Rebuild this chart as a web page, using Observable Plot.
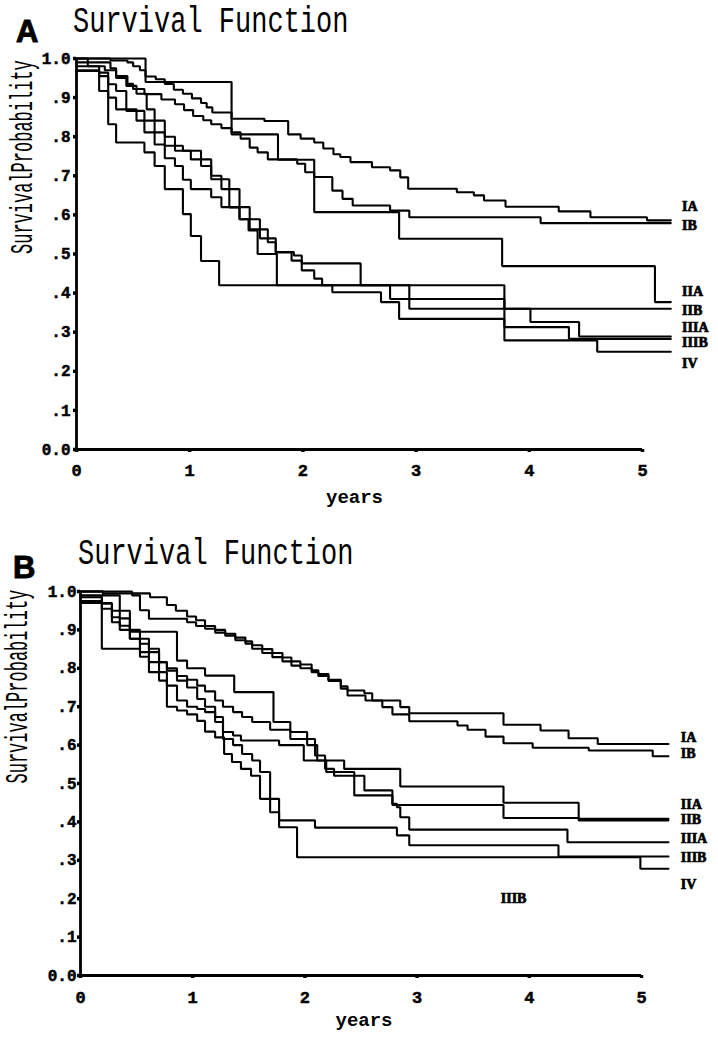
<!DOCTYPE html>
<html>
<head>
<meta charset="utf-8">
<script src="https://cdn.jsdelivr.net/npm/d3@7"></script>
<script src="https://cdn.jsdelivr.net/npm/@observablehq/plot@0.6"></script>
<style>
  body { margin: 0; background: #fff; }
  #wrap { position: relative; width: 718px; height: 1038px; overflow: hidden; background: #fff; }
  .letter { position: absolute; font-family: "Liberation Sans", Arial, sans-serif; font-weight: bold;
            font-size: 31px; line-height: 31px; -webkit-text-stroke: 1px #000; color: #000; }
  .title { position: absolute; font-family: "Liberation Mono", monospace; font-size: 27px; line-height: 27px;
           transform: scaleY(1.4); transform-origin: 0 20.7px; white-space: pre; color: #000; }
  .panel { position: absolute; left: 0; }
  g[aria-label$="tick label"] text { stroke: #000; stroke-width: 0.5px; }
</style>
</head>
<body>
<div id="wrap">
  <div class="letter" style="left:16px;top:16px">A</div>
  <div class="title" style="left:73px;top:12px">Survival Function</div>
  <div class="panel" id="pA" style="top:50px"></div>
  <div class="letter" style="left:13px;top:552px">B</div>
  <div class="title" style="left:78px;top:544px">Survival Function</div>
  <div class="panel" id="pB" style="top:583px"></div>
</div>
<script>
// ---------- shared categories / ticks ----------
const STAGES = ["IA", "IB", "IIA", "IIB", "IIIA", "IIIB", "IV"];
const X_TICKS = [0, 1, 2, 3, 4, 5];
const X_TICK_LABELS = ["0", "1", "2", "3", "4", "5"];
const Y_TICKS = [0, 0.1, 0.2, 0.3, 0.4, 0.5, 0.6, 0.7, 0.8, 0.9, 1.0];
const Y_TICK_LABELS = ["0.0", ".1", ".2", ".3", ".4", ".5", ".6", ".7", ".8", ".9", "1.0"];
const X_LABEL = "years";
const Y_LABEL = "SurvivalProbability";

// ---------- Panel A: [years, survival] step points ----------
const A_IA = [[0,1.0],[0.30,0.995],[0.45,0.99],[0.50,0.98],[0.56,0.97],[0.61,0.954],[0.70,0.947],[0.78,0.935],[0.86,0.92],[0.94,0.91],[1.02,0.898],[1.10,0.886],[1.15,0.875],[1.20,0.862],[1.37,0.846],[1.66,0.84],[1.87,0.806],[1.98,0.795],[2.10,0.785],[2.18,0.77],[2.27,0.755],[2.33,0.748],[2.42,0.735],[2.61,0.722],[2.77,0.714],[2.86,0.696],[2.93,0.667],[3.36,0.658],[3.51,0.65],[3.60,0.637],[3.79,0.621],[4.26,0.609],[4.54,0.594],[5.04,0.586]];
const A_IB = [[0,1.0],[0.10,0.99],[0.30,0.975],[0.35,0.955],[0.45,0.935],[0.50,0.922],[0.60,0.909],[0.75,0.895],[0.87,0.883],[0.95,0.868],[1.03,0.853],[1.12,0.842],[1.19,0.832],[1.28,0.822],[1.37,0.811],[1.45,0.795],[1.53,0.772],[1.60,0.76],[1.69,0.742],[1.95,0.731],[2.02,0.709],[2.10,0.697],[2.26,0.662],[2.35,0.641],[2.44,0.624],[2.77,0.611],[2.94,0.594],[4.10,0.579]];
const A_IIA = [[0,1.0],[0.61,0.94],[1.37,0.806],[1.78,0.741],[2.10,0.607],[2.85,0.539],[3.76,0.469],[5.11,0.377]];
const A_IIB = [[0,0.99],[0.10,0.98],[0.25,0.97],[0.35,0.95],[0.44,0.93],[0.53,0.91],[0.62,0.87],[0.69,0.841],[0.78,0.80],[0.87,0.777],[0.94,0.764],[1.10,0.742],[1.19,0.70],[1.28,0.691],[1.35,0.666],[1.44,0.62],[1.53,0.589],[1.62,0.563],[1.69,0.53],[1.76,0.505],[1.92,0.496],[1.99,0.476],[2.51,0.42],[2.94,0.36]];
const A_IIIA = [[0,0.98],[0.20,0.964],[0.28,0.934],[0.35,0.917],[0.44,0.866],[0.60,0.841],[0.69,0.811],[0.78,0.777],[0.87,0.764],[1.01,0.742],[1.10,0.725],[1.19,0.691],[1.28,0.666],[1.35,0.619],[1.44,0.589],[1.52,0.56],[1.60,0.50],[1.77,0.42],[2.77,0.385],[3.78,0.36],[4.01,0.326],[4.44,0.289]];
const A_IIIB = [[0,0.97],[0.20,0.955],[0.28,0.90],[0.35,0.87],[0.53,0.841],[0.60,0.811],[0.69,0.78],[0.78,0.745],[0.87,0.725],[0.94,0.69],[1.01,0.666],[1.19,0.645],[1.28,0.62],[1.44,0.589],[1.53,0.563],[1.62,0.54],[1.76,0.504],[1.90,0.483],[1.99,0.458],[2.10,0.437],[2.17,0.42],[2.26,0.402],[2.69,0.377],[2.85,0.334],[3.78,0.313],[4.35,0.283]];
const A_IV = [[0,0.968],[0.20,0.917],[0.28,0.832],[0.35,0.785],[0.60,0.76],[0.69,0.725],[0.78,0.666],[0.94,0.602],[1.01,0.546],[1.10,0.482],[1.26,0.42],[3.78,0.279],[4.60,0.25]];
const A_END = 5.25;
const A_LABEL_T = 5.35;
const A_LABEL_LEVELS = [0.621, 0.574, 0.405, 0.355, 0.313, 0.273, 0.220];

// ---------- Panel B ----------
const B_IA = [[0,1.0],[0.46,0.995],[0.62,0.985],[0.77,0.965],[0.85,0.95],[0.95,0.935],[1.03,0.925],[1.11,0.91],[1.20,0.90],[1.29,0.89],[1.38,0.88],[1.47,0.87],[1.53,0.86],[1.62,0.85],[1.71,0.84],[1.80,0.828],[1.88,0.818],[1.96,0.81],[2.06,0.795],[2.12,0.785],[2.21,0.77],[2.32,0.753],[2.38,0.742],[2.53,0.735],[2.60,0.716],[2.85,0.699],[2.93,0.683],[3.77,0.653],[4.10,0.638],[4.35,0.618],[4.61,0.603]];
const B_IB = [[0,1.0],[0.20,0.995],[0.46,0.99],[0.53,0.951],[0.61,0.929],[0.95,0.92],[1.03,0.91],[1.11,0.903],[1.20,0.893],[1.29,0.885],[1.38,0.873],[1.47,0.864],[1.53,0.851],[1.62,0.84],[1.71,0.829],[1.80,0.818],[1.88,0.807],[1.96,0.80],[2.06,0.79],[2.12,0.78],[2.21,0.767],[2.32,0.747],[2.38,0.729],[2.54,0.716],[2.69,0.699],[2.78,0.68],[2.93,0.662],[3.36,0.651],[3.45,0.64],[3.61,0.622],[3.77,0.605],[4.03,0.593],[4.53,0.586],[5.10,0.571]];
const B_IIA = [[0,1.0],[0.20,0.99],[0.35,0.95],[0.44,0.895],[0.86,0.82],[0.95,0.80],[1.11,0.781],[1.37,0.738],[1.72,0.66],[1.87,0.616],[2.09,0.573],[2.18,0.56],[2.35,0.538],[2.85,0.492],[3.77,0.45],[4.44,0.408]];
const B_IIB = [[0,0.99],[0.19,0.97],[0.28,0.933],[0.35,0.911],[0.44,0.877],[0.53,0.864],[0.61,0.842],[0.70,0.816],[0.77,0.80],[0.86,0.78],[0.95,0.77],[1.04,0.755],[1.11,0.74],[1.20,0.716],[1.27,0.70],[1.36,0.686],[1.44,0.673],[1.53,0.66],[1.69,0.64],[1.87,0.634],[2.02,0.60],[2.11,0.56],[2.19,0.53],[2.44,0.469],[2.78,0.444],[3.77,0.41],[4.44,0.404]];
const B_IIIA = [[0,0.985],[0.19,0.968],[0.28,0.95],[0.35,0.93],[0.44,0.90],[0.53,0.877],[0.61,0.851],[0.70,0.816],[0.77,0.794],[0.86,0.768],[0.95,0.75],[1.04,0.72],[1.11,0.70],[1.20,0.673],[1.27,0.634],[1.36,0.625],[1.43,0.612],[1.77,0.60],[1.99,0.56],[2.18,0.538],[2.26,0.52],[2.53,0.482],[2.78,0.447],[2.82,0.438],[2.85,0.412],[2.93,0.38],[4.34,0.347]];
const B_IIIB = [[0,0.975],[0.19,0.955],[0.28,0.92],[0.35,0.90],[0.44,0.877],[0.53,0.842],[0.61,0.816],[0.70,0.79],[0.77,0.755],[0.86,0.716],[0.95,0.70],[1.04,0.694],[1.11,0.686],[1.20,0.66],[1.27,0.616],[1.36,0.60],[1.44,0.577],[1.53,0.56],[1.60,0.53],[1.69,0.46],[1.77,0.404],[2.09,0.385],[2.82,0.365],[2.93,0.339],[4.26,0.31]];
const B_IV = [[0,0.97],[0.19,0.851],[0.53,0.83],[0.61,0.79],[0.70,0.768],[0.77,0.70],[0.86,0.69],[0.95,0.68],[1.04,0.663],[1.11,0.635],[1.20,0.62],[1.28,0.577],[1.35,0.556],[1.43,0.538],[1.52,0.52],[1.60,0.46],[1.69,0.425],[1.77,0.386],[1.93,0.308],[4.99,0.278]];
const B_END = 5.24;
const B_LABEL_T = 5.35;
const B_LABEL_LEVELS = [0.62, 0.578, 0.446, 0.407, 0.357, 0.307, 0.237];
const B_STRAY = [{t: 3.86, s: 0.20, text: "IIIB"}];

function drawPanel(cfg) {
  const rows = [];
  STAGES.forEach((name, i) => {
    const pts = cfg.series[i];
    pts.forEach(([t, s]) => rows.push({name, t, s}));
    rows.push({name, t: cfg.tEnd, s: pts[pts.length - 1][1]});
  });
  const labels = STAGES.map((name, i) => ({name, t: cfg.labelT, s: cfg.labelLevels[i]}));
  const marks = [
    Plot.line(rows, {x: "t", y: "s", z: "name", curve: "step-after", stroke: "black",
      strokeWidth: 2.1, strokeLinejoin: "miter"}),
    Plot.ruleX([0], {y1: 0, y2: 1, stroke: "black", strokeWidth: 2.8}),
    Plot.ruleY([0], {x1: 0, x2: 5, stroke: "black", strokeWidth: 2.8}),
    Plot.axisY({ticks: Y_TICKS, tickFormat: d => Y_TICK_LABELS[Y_TICKS.indexOf(d)], tickSize: 3,
      tickPadding: cfg.ytp, strokeWidth: 3.5, fontSize: 16, fontWeight: "bold", label: null}),
    Plot.axisX({ticks: X_TICKS, tickFormat: d => X_TICK_LABELS[X_TICKS.indexOf(d)], tickSize: 3,
      tickPadding: cfg.xtp, strokeWidth: 3.5, fontSize: 17, fontWeight: "bold", label: null}),
    Plot.text(labels, {x: "t", y: "s", text: "name", textAnchor: "start",
      fontFamily: "'Liberation Serif', serif", fontWeight: "bold", fontSize: 14,
      fill: "black", stroke: "black", strokeWidth: 0.7}),
    Plot.text([Y_LABEL], {text: d => d, frameAnchor: "left", rotate: -90, dx: cfg.ylDx, fontSize: 17, fill: "black"}),
    Plot.text([X_LABEL], {text: d => d, frameAnchor: "bottom", dx: cfg.xlDx, dy: cfg.xlDy,
      fontSize: 19, fontWeight: "bold", fill: "black"})
  ];
  if (cfg.extra) {
    marks.push(Plot.text(cfg.extra, {x: "t", y: "s", text: "text",
      fontFamily: "'Liberation Serif', serif", fontWeight: "bold", fontSize: 14,
      fill: "black", stroke: "black", strokeWidth: 0.7}));
  }
  const svg = Plot.plot({
    width: 718, height: cfg.height,
    marginLeft: cfg.ml, marginRight: cfg.mr, marginTop: cfg.mt, marginBottom: cfg.mb,
    style: {fontFamily: "'Liberation Mono', monospace", background: "white", color: "black"},
    x: {domain: [0, 5]},
    y: {domain: [0, 1]},
    marks
  });
  d3.select(svg).selectAll("text").each(function () {
    if (this.textContent === Y_LABEL) {
      this.setAttribute("transform", (this.getAttribute("transform") || "") + " scale(1,1.8)");
    }
  });
  return svg;
}

document.getElementById("pA").appendChild(drawPanel({
  series: [A_IA, A_IB, A_IIA, A_IIB, A_IIIA, A_IIIB, A_IV],
  tEnd: A_END, labelT: A_LABEL_T, labelLevels: A_LABEL_LEVELS,
  height: 480, ml: 76, mr: 76, mt: 8, mb: 81,
  ytp: 3, xtp: 11, ylDx: -54, xlDx: -5, xlDy: 53
}));

document.getElementById("pB").appendChild(drawPanel({
  series: [B_IA, B_IB, B_IIA, B_IIB, B_IIIA, B_IIIB, B_IV],
  tEnd: B_END, labelT: B_LABEL_T, labelLevels: B_LABEL_LEVELS,
  height: 455, ml: 80, mr: 77, mt: 8, mb: 63,
  ytp: 1, xtp: 12, ylDx: -63, xlDx: 3, xlDy: 50,
  extra: B_STRAY
}));
</script>
</body>
</html>
